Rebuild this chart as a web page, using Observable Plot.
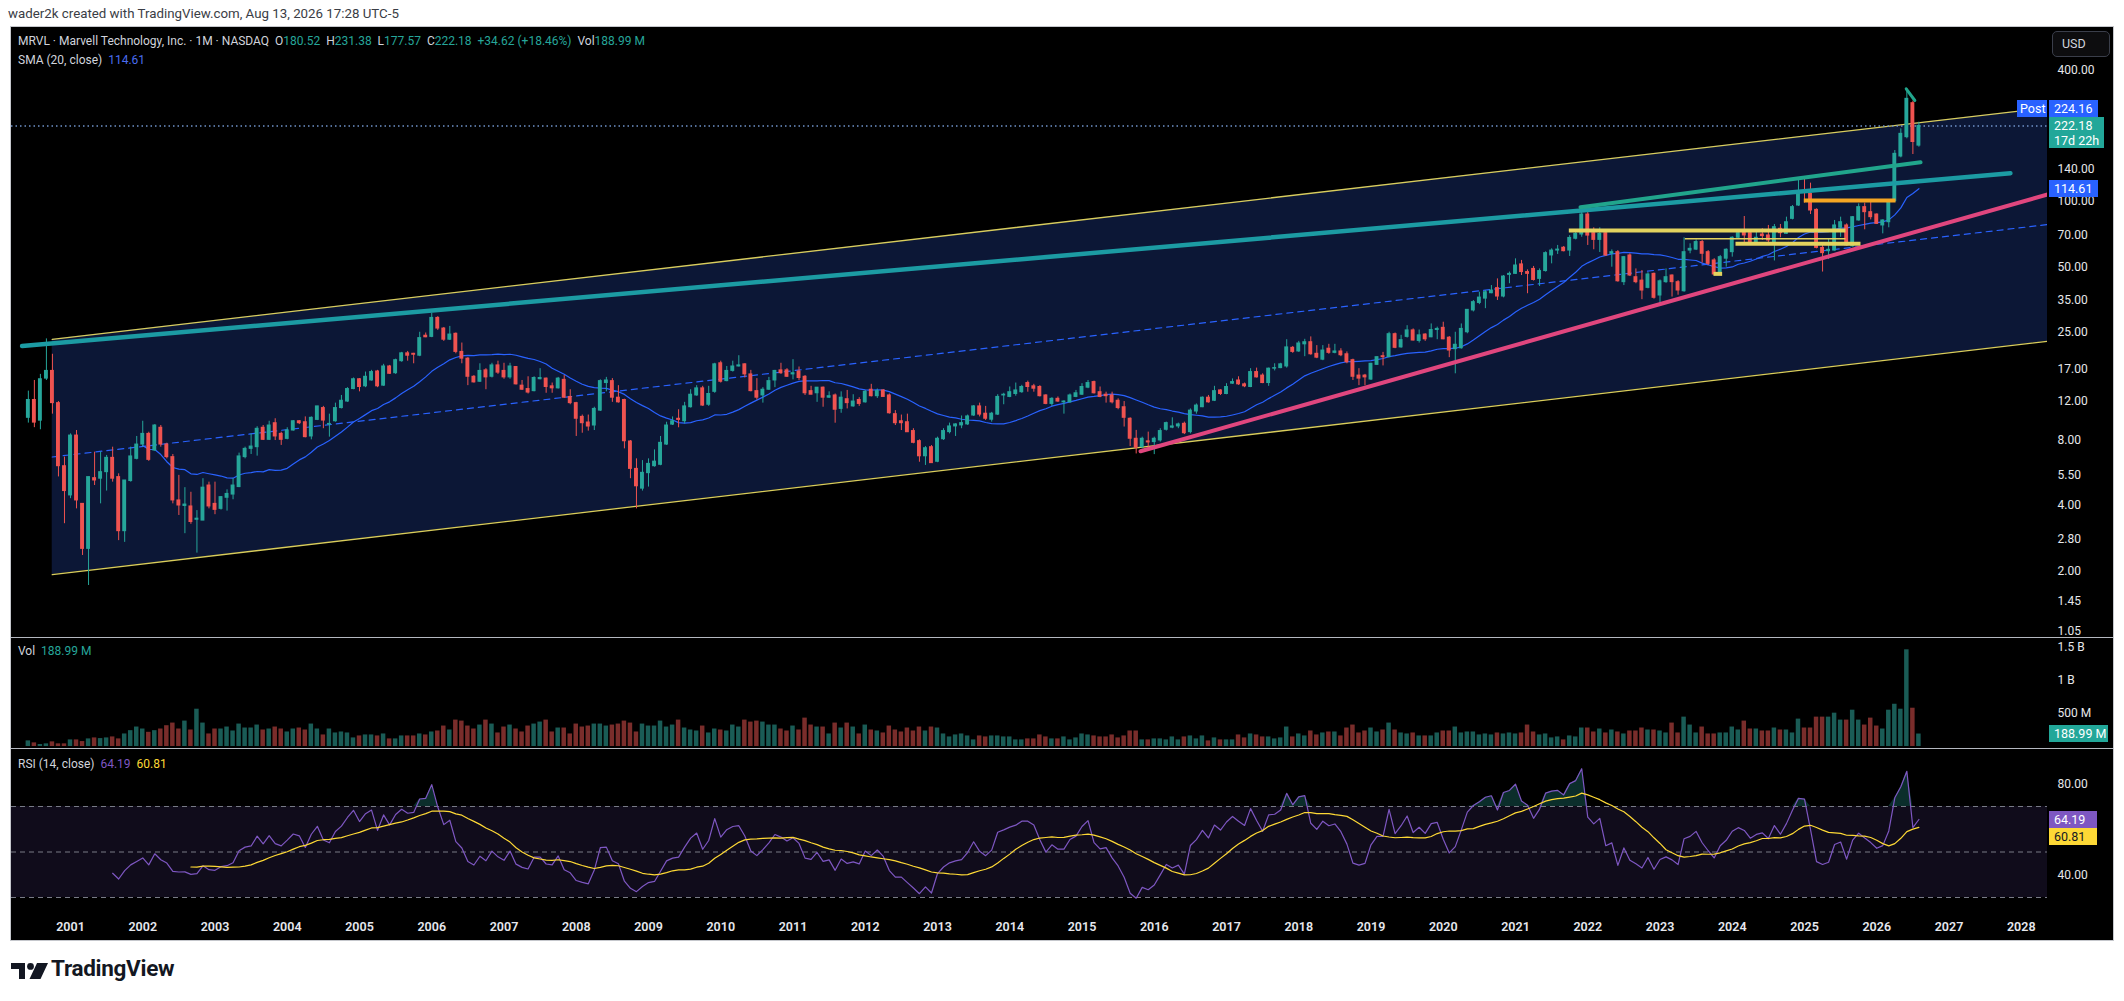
<!DOCTYPE html>
<html><head><meta charset="utf-8">
<script src="https://cdn.jsdelivr.net/npm/d3@7"></script>
<script src="https://cdn.jsdelivr.net/npm/@observablehq/plot@0.6"></script>
<style>
html,body{margin:0;padding:0;background:#fff;}
body{width:2124px;height:1001px;position:relative;overflow:hidden;font-family:Roboto,"Noto Sans",sans-serif;}
.abs{position:absolute;}
#frame{left:10px;top:26px;width:2104px;height:915px;background:#000;border:1px solid #c5c7cc;box-sizing:border-box;}
.pane{position:absolute;left:11px;}
.legend{position:absolute;left:18px;font-size:12px;color:#d1d4dc;white-space:pre;line-height:16px;}
.up{color:#26a69a;}
.badge{position:absolute;font-size:12.5px;color:#fff;line-height:17px;height:17px;padding-left:5px;box-sizing:border-box;white-space:pre;}
.sep{position:absolute;left:11px;width:2102px;height:1px;background:#b4b7bf;}
</style></head><body>
<div class="abs" style="left:8px;top:6px;font-size:13.3px;color:#3a3d45;">wader2k created with TradingView.com, Aug 13, 2026 17:28 UTC-5</div>
<div id="frame" class="abs"></div>
<div id="pricePane" class="pane" style="top:27px"></div>
<div id="volPane" class="pane" style="top:637px"></div>
<div id="rsiPane" class="pane" style="top:748px"></div>
<div class="sep" style="top:637px"></div>
<div class="sep" style="top:748px"></div>
<div class="legend" style="top:33px">MRVL · Marvell Technology, Inc. · 1M · NASDAQ  O<span class="up">180.52</span>  H<span class="up">231.38</span>  L<span class="up">177.57</span>  C<span class="up">222.18</span>  <span class="up">+34.62 (+18.46%)</span>  Vol<span class="up">188.99 M</span></div>
<div class="legend" style="top:52px">SMA (20, close)  <span style="color:#4a6cf0">114.61</span></div>
<div class="legend" style="top:643px">Vol  <span class="up">188.99 M</span></div>
<div class="legend" style="top:756px">RSI (14, close)  <span style="color:#7e57c2">64.19</span>  <span style="color:#fdd835">60.81</span></div>
<div class="abs" style="left:2052px;top:31px;width:58px;height:26px;border:1px solid #3a3e4a;border-radius:5px;box-sizing:border-box;background:#0d0d0f;color:#d1d4dc;font-size:12.5px;line-height:24px;padding-left:9px;">USD</div>
<svg style="position:absolute;left:11px;top:963px" width="37" height="16" viewBox="0 0 37 16">
<path d="M0 0H14V16H8V6H0Z" fill="#131722"/>
<circle cx="19.5" cy="3.4" r="3.4" fill="#131722"/>
<path d="M26 0H37L29.5 16H18.5Z" fill="#131722"/>
</svg>
<div class="abs" style="left:51px;top:955px;font-size:22.5px;font-weight:700;color:#131722;letter-spacing:-0.3px;">TradingView</div>
<div id="badges"></div>
<script>
// ---- monthly bars, first bar June 2000 ----
const firstBar = [2000, 6];
const open = [
10.1,12.2,9.8,15.3,16.6,11.8,6.05,4.44,8.37,4.06,
2.52,5.33,5.30,5.68,6.61,5.39,3.04,5.17,6.54,7.61,
8.52,7.14,9.09,7.61,6.66,4.21,3.97,3.95,3.43,3.40,
4.93,4.06,3.85,4.33,4.48,4.85,6.66,7.27,7.40,9.09,
8.00,9.54,8.52,8.08,8.83,9.74,9.64,8.29,9.88,11.2,
9.40,9.74,11.2,12.0,13.7,15.2,14.1,15.0,16.5,14.2,
17.4,16.2,18.4,20.0,19.9,19.5,24.1,23.8,29.1,26.0,
23.1,24.6,20.3,18.9,15.6,14.8,16.7,15.6,17.6,16.6,
15.5,17.3,14.2,13.7,13.4,15.2,15.3,14.1,13.8,15.1,
12.6,11.8,10.2,9.61,9.31,10.9,14.6,14.9,12.5,12.2,
7.86,5.88,4.77,5.62,6.05,6.14,7.61,9.40,10.0,9.74,
11.3,12.8,13.8,11.6,13.3,18.0,14.9,16.6,17.4,17.8,
16.0,13.4,12.8,13.6,15.0,16.7,16.7,16.0,16.5,15.6,
13.4,13.1,13.9,12.5,12.8,11.1,12.3,11.4,12.2,11.9,
13.6,12.7,13.5,12.8,10.5,9.74,9.64,8.78,7.89,6.72,
7.40,6.34,8.05,8.68,9.22,9.32,9.42,10.35,11.4,10.55,
9.9,10.45,12.8,12.6,13.0,13.25,14.6,14.1,14.0,12.8,
11.7,12.35,11.9,11.9,12.6,12.9,13.9,14.75,13.25,12.9,
12.8,12.1,11.3,10.0,8.09,7.40,7.87,7.81,7.95,8.90,
9.10,9.22,9.48,8.68,10.8,11.3,12.5,12.1,13.5,13.0,
14.5,15.0,14.4,14.0,16.4,15.8,14.6,17.0,17.1,17.4,
21.2,20.4,22.0,22.5,19.9,18.7,21.0,20.1,20.4,19.8,
18.6,15.8,15.8,15.15,17.7,19.4,19.2,24.5,21.3,23.8,
25.5,22.8,24.4,23.7,25.6,26.2,23.6,20.9,21.1,25.0,
31.5,34.1,35.7,37.8,39.9,36.5,45.9,46.4,51.3,47.3,
48.9,44.0,47.8,56.4,59.4,61.2,59.4,67.3,70.4,87.0,
71.4,66.5,71.4,57.4,58.4,42.5,56.4,44.8,43.2,40.0,
46.4,36.9,42.5,45.6,42.5,38.6,59.4,60.0,65.0,58.4,
53.5,46.4,54.5,58.4,68.0,73.4,71.4,63.4,70.4,69.7,
65.0,74.8,70.9,83.1,95.7,111.5,108.3,91.4,61.1,59.0,
59.4,75.6,77.5,62.1,81.7,94.1,89.2,87.0,77.5,80.2,
100.2,160.9,197.4,283.0,180.52];
const high = [
13.4,15.0,16.0,23.3,19.8,12.0,6.66,8.52,8.83,4.06,
5.39,7.02,7.02,6.78,7.40,5.58,5.20,7.40,8.29,9.74,
8.67,9.40,9.31,7.72,6.85,5.49,4.82,4.59,3.78,5.30,
5.11,5.11,4.39,4.71,5.30,6.95,7.40,8.52,9.19,9.31,
9.74,10.0,8.67,9.09,9.81,9.81,10.2,10.2,11.4,11.4,
10.5,11.8,12.8,13.9,15.4,15.3,16.4,16.7,16.7,17.8,
17.6,18.8,20.2,20.4,20.0,25.0,24.8,30.6,29.5,26.3,
26.6,24.8,22.3,19.1,15.8,17.9,17.0,18.0,18.4,18.0,
18.0,17.4,15.0,15.6,15.6,17.0,15.4,14.6,15.5,15.8,
13.6,11.9,10.4,10.4,11.3,15.1,15.5,15.3,14.2,12.3,
7.94,6.54,6.42,6.54,7.19,8.29,9.64,10.2,11.0,11.9,
13.6,14.2,14.1,14.1,18.0,18.4,17.4,18.4,19.5,17.9,
16.7,15.3,13.9,15.5,16.7,18.0,17.0,18.7,17.3,15.8,
14.1,13.9,14.0,13.3,13.0,13.3,13.5,12.9,12.5,13.5,
14.4,13.7,13.6,13.0,10.9,10.4,10.5,9.00,8.00,7.45,
7.53,8.23,9.00,9.55,9.48,10.3,10.4,11.5,11.8,11.4,
10.7,12.9,13.1,14.0,14.6,14.25,14.9,14.4,14.2,12.9,
12.5,12.6,12.1,13.0,13.5,14.5,15.0,14.9,14.0,13.25,
13.25,12.35,12.0,10.1,8.84,8.23,8.68,8.23,9.00,9.65,
10.1,9.55,9.65,11.1,11.7,12.6,12.8,14.1,13.6,14.5,
15.25,15.6,14.6,17.0,17.1,16.1,17.1,17.9,18.0,23.1,
21.5,22.7,23.2,23.8,21.7,21.7,22.0,22.0,21.0,20.3,
18.8,17.0,16.0,18.0,19.3,20.2,25.0,24.8,24.2,26.8,
25.9,25.6,24.6,27.3,26.4,27.8,23.9,25.0,27.3,31.8,
35.0,38.2,38.9,41.0,44.0,45.6,47.3,54.4,53.5,48.4,
50.2,48.9,58.6,60.5,62.7,62.0,69.6,73.4,92.4,90.2,
75.6,75.6,72.1,59.8,59.4,55.8,57.4,48.9,48.1,47.0,
46.8,43.5,48.9,45.9,43.2,68.0,63.8,66.5,66.1,59.4,
54.5,56.4,60.5,68.7,74.0,85.2,74.0,74.0,74.8,77.5,
78.3,78.3,84.6,95.7,125.6,127.0,121.3,92.4,63.8,67.3,
81.7,84.6,78.8,85.2,97.4,98.2,101.6,87.6,82.2,100.2,
171.4,215.6,329.4,289.0,231.38];
const low = [
9.55,9.1,8.9,15.0,10.5,5.4,3.29,4.29,3.85,2.35,
1.71,4.93,4.06,4.65,5.11,2.75,2.70,5.11,6.47,7.40,
6.37,7.09,7.40,6.54,4.06,3.59,2.96,3.27,2.41,3.40,
3.85,3.62,3.80,3.76,4.24,4.82,6.54,6.85,6.73,7.94,
7.94,7.94,7.54,8.00,8.77,9.40,8.17,8.00,9.81,9.0,
8.23,9.64,11.1,11.9,13.6,13.3,13.9,14.9,13.9,14.1,
16.0,16.0,18.2,18.4,17.9,19.3,23.6,23.6,25.5,22.7,
22.9,19.9,17.9,14.2,14.6,14.7,13.6,15.4,16.0,15.2,
15.2,14.3,13.5,13.0,13.3,15.1,13.1,13.1,13.7,12.4,
11.6,8.29,8.58,8.77,8.83,10.8,13.3,11.9,11.8,7.27,
5.30,3.85,4.65,4.85,5.99,6.08,7.54,9.31,9.09,9.47,
11.2,12.7,11.4,11.4,13.1,14.6,14.8,16.4,17.3,15.4,
13.3,12.2,11.8,13.5,13.9,16.0,15.5,15.1,15.0,12.8,
12.9,11.9,11.3,12.4,9.54,10.6,11.1,11.3,11.4,11.8,
12.6,12.4,12.6,10.5,9.31,8.83,8.67,7.67,6.31,6.10,
6.25,6.28,7.95,8.52,8.29,9.00,9.32,10.25,10.2,9.82,
9.65,10.35,11.6,12.5,12.7,13.1,13.25,13.25,12.6,11.6,
11.4,11.9,10.5,11.8,12.5,12.8,13.75,13.0,12.5,11.8,
11.7,11.0,9.16,7.45,6.89,7.27,7.40,6.84,7.81,8.78,
9.00,9.00,8.46,8.52,10.5,11.25,11.8,12.0,12.8,12.9,
14.4,14.25,13.9,13.9,15.4,14.5,14.1,16.6,17.0,17.1,
20.0,20.2,19.3,19.6,18.9,18.5,19.8,19.9,19.3,17.9,
15.0,14.2,14.2,15.0,17.6,17.5,19.1,21.0,21.1,23.5,
22.8,22.3,22.7,23.6,23.1,23.1,19.1,16.1,20.9,24.6,
31.0,33.5,32.1,37.6,35.0,36.0,41.8,46.1,45.6,37.6,
43.0,40.6,47.3,51.6,57.0,58.6,55.8,66.5,68.4,62.7,
59.9,58.2,55.8,49.8,42.5,41.0,45.1,41.8,35.3,39.6,
35.5,34.0,42.0,36.3,37.0,38.2,57.4,59.4,52.0,50.7,
45.6,46.1,49.8,55.4,67.3,63.4,63.8,62.7,66.1,62.7,
53.2,68.0,70.4,82.2,94.8,98.2,87.0,60.5,47.3,54.0,
59.0,68.4,62.1,61.6,81.1,74.0,82.2,78.3,70.9,75.6,
99.2,158.6,194.0,164.3,177.57];
const close = [
12.2,9.6,15.2,16.6,11.8,6.05,4.65,8.37,4.21,2.52,
5.39,5.20,5.68,6.61,5.30,3.04,5.20,6.71,7.61,8.52,
6.47,9.31,7.61,6.66,4.21,3.99,4.03,3.35,3.47,4.82,
3.95,3.81,4.36,4.51,4.93,6.71,7.27,7.45,8.99,8.00,
9.31,8.29,8.00,8.83,9.74,9.54,8.23,10.1,11.4,9.81,
9.47,11.2,12.1,13.7,15.2,14.0,15.6,16.4,14.1,17.4,
16.1,18.6,20.0,19.5,19.7,23.5,23.7,29.1,26.0,23.1,
24.4,20.3,18.9,15.6,14.7,16.6,15.5,17.6,16.3,15.5,
17.4,14.4,13.6,13.2,15.4,15.4,14.0,13.8,15.3,12.5,
11.8,10.0,9.54,9.21,11.1,14.9,15.0,12.5,11.9,7.88,
5.88,4.89,5.64,6.20,6.35,7.75,9.31,9.74,9.88,11.4,
12.9,13.8,11.5,13.0,17.8,14.8,16.6,17.4,17.6,16.0,
13.4,12.5,13.6,14.9,16.6,16.2,15.6,16.2,15.4,13.1,
12.9,13.9,12.5,12.7,11.0,12.5,11.8,12.0,11.7,13.3,
12.7,13.4,12.6,10.6,9.54,9.54,8.67,7.75,6.72,7.32,
6.25,8.09,8.78,9.22,9.42,9.55,10.25,11.4,10.45,10.0,
10.55,12.6,12.9,13.25,13.5,14.0,14.0,13.75,12.7,11.7,
12.35,12.0,12.0,12.8,13.1,14.0,14.6,13.1,12.6,12.7,
11.9,11.2,10.1,8.09,7.35,8.09,7.78,8.09,8.78,9.55,
9.22,9.42,8.58,10.9,11.5,12.5,11.9,13.4,13.0,14.0,
14.75,14.4,14.1,16.4,15.5,14.6,17.0,17.1,17.8,21.3,
20.3,22.2,22.5,19.8,19.1,20.6,20.1,20.4,19.6,18.2,
15.6,15.3,15.5,17.9,19.2,19.2,24.5,21.2,23.0,25.5,
22.9,24.2,23.2,25.6,25.9,23.2,20.6,21.9,25.9,31.7,
34.4,36.1,38.2,38.9,36.5,45.1,46.4,50.7,47.3,46.4,
43.5,47.8,57.8,59.4,60.0,59.0,67.9,70.9,87.0,69.6,
66.5,70.9,56.4,58.4,42.9,55.4,45.6,42.5,38.9,46.1,
36.0,42.9,44.8,42.5,38.9,58.4,60.5,65.0,57.4,51.6,
46.1,55.4,59.9,68.0,71.4,69.7,65.0,68.0,69.2,66.1,
76.1,71.4,80.2,94.1,110.2,109.8,90.8,61.1,57.8,59.9,
77.5,80.2,62.7,84.6,94.1,89.2,84.6,78.8,81.7,99.2,
165.5,204.5,296.3,187.56,222.18];
// volume in millions of shares
const volume = [
85,55,30,40,70,40,40,100,100,75,
115,130,120,130,145,115,190,240,295,265,
215,240,265,315,355,265,385,250,565,355,
190,265,265,295,235,340,280,280,325,250,
265,295,265,220,265,280,250,340,265,175,
265,205,220,205,130,160,175,175,160,190,
115,115,160,160,160,190,175,220,235,310,
250,400,385,310,265,325,400,340,205,295,
325,265,220,310,340,370,400,220,280,280,
190,340,295,310,340,340,310,325,340,385,
355,220,340,310,310,385,295,325,400,280,
250,235,310,205,265,250,235,325,295,400,
370,385,370,325,325,265,235,310,250,430,
325,295,295,190,355,280,355,295,190,325,
250,235,205,310,250,220,280,235,295,235,
295,280,190,145,175,190,160,100,160,145,
160,160,145,145,100,100,115,115,175,145,
115,115,145,100,130,190,175,160,145,145,
175,130,160,235,235,100,100,115,115,100,
145,100,145,160,115,160,85,130,100,100,
100,175,130,190,175,145,145,115,130,295,
145,190,160,235,175,205,220,220,160,280,
325,205,235,280,220,250,355,250,205,190,
205,160,160,160,205,235,235,295,205,220,
220,175,190,175,205,190,205,190,205,325,
220,175,190,130,145,100,160,145,280,280,
220,265,205,250,220,190,235,235,280,250,
250,235,205,355,205,445,325,205,295,190,
190,205,205,295,250,385,265,265,235,235,
280,250,250,205,415,280,280,445,445,445,
505,400,400,550,400,325,430,310,265,550,
640,565,1465,580,188.99];

// ---- drawings: [time (decimal year), price] ----
const channelUpper = [[2000.747, 23.2], [2028.364, 269.4]];
const channelLower = [[2000.747, 1.92], [2028.364, 22.7]];
const channelMid   = [[2000.747, 6.67], [2028.364, 78.2]];
const tealLong     = [[2000.33, 21.6], [2027.85, 134.8]];
const tealPeak     = [[2021.90, 94.0], [2026.606, 151.4]];
const tealTick     = [[2026.408, 329.5], [2026.527, 291.1]];
const pinkLine     = [[2015.81, 7.09], [2028.364, 107.6]];
// horizontal levels: [start, end, price, width]
const yellowLevels = [[2021.738, 2025.567, 73.5, 4], [2023.344, 2025.567, 67.3, 1.5], [2024.045, 2025.775, 63.8, 4], [2023.74, 2023.86, 46.4, 4]];
const orangeLevels = [[2024.99, 2026.26, 100.9, 4]];

// axis labels visible in the reference (200, 280 and 60 sit under the value badges)
const priceTicks = [1.05, 1.45, 2.00, 2.80, 4.00, 5.50, 8.00, 12.00, 17.00, 25.00, 35.00, 50.00, 70.00, 100.00, 140.00, 400.00];
const volTicks = [500, 1000, 1500];
const rsiTicks = [40, 80];
const yearTicks = [2001,2002,2003,2004,2005,2006,2007,2008,2009,2010,2011,2012,2013,2014,2015,2016,2017,2018,2019,2020,2021,2022,2023,2024,2025,2026,2027,2028];

const lastClose = 222.18, postPrice = 224.16, smaLast = 114.61, volLast = 188.99, rsiLast = 64.19, rsiMaLast = 60.81;

// ---- build table ----
const UP = "#26a69a", DN = "#ef5350", VUP = "#1a5c56", VDN = "#7a2d2b";
const T0 = firstBar[0] + (firstBar[1] - 1) / 12;
const N = close.length;
const bars = close.map((c, i) => ({t: T0 + i / 12, o: open[i], h: high[i], l: low[i], c, v: volume[i], up: c >= open[i]}));
for (let i = 19; i < N; i++) { let s = 0; for (let k = i - 19; k <= i; k++) s += close[k]; bars[i].sma = s / 20; }
// RSI(14) Wilder + SMA(14) smoothing
{
  let ag = 0, al = 0;
  for (let i = 1; i <= 14; i++) { const ch = close[i] - close[i - 1]; ag += Math.max(ch, 0); al += Math.max(-ch, 0); }
  ag /= 14; al /= 14;
  bars[14].rsi = al === 0 ? 100 : 100 - 100 / (1 + ag / al);
  for (let i = 15; i < N; i++) {
    const ch = close[i] - close[i - 1];
    ag = (ag * 13 + Math.max(ch, 0)) / 14; al = (al * 13 + Math.max(-ch, 0)) / 14;
    bars[i].rsi = al === 0 ? 100 : 100 - 100 / (1 + ag / al);
  }
  for (let i = 27; i < N; i++) { let s = 0; for (let k = i - 13; k <= i; k++) s += bars[k].rsi; bars[i].ma = s / 14; }
}
const rsiRows = bars.filter(d => d.rsi != null);
const maRows = bars.filter(d => d.ma != null);
const smaRows = bars.filter(d => d.sma != null);

const W = 2102, MR = 66;
const xDomain = [2000.1834, 2028.3633];
const font = "Roboto, 'Noto Sans', sans-serif";
const AX = "#e6e7ea";
const baseStyle = {background: "transparent", color: AX, fontFamily: font, fontSize: "12px", overflow: "visible"};
const seg = (arr, o) => Plot.line(arr, {x: d => d[0], y: d => d[1], clip: true, ...o});
const lvl = (arr, color) => Plot.link(arr, {x1: d => d[0], x2: d => d[1], y1: d => d[2], y2: d => d[2], stroke: color, strokeWidth: d => d[3], clip: true});
const rightLabels = (ticks, fmt) => Plot.text(ticks, {x: xDomain[1], y: d => d, text: fmt, dx: 10, textAnchor: "start", fill: AX, fontSize: 12});

const priceChart = Plot.plot({
  width: W, height: 610, marginLeft: 0, marginRight: MR, marginTop: 0, marginBottom: 0,
  x: {type: "linear", domain: xDomain, axis: null},
  y: {type: "log", domain: [0.9857, 630.8], axis: null},
  style: baseStyle,
  marks: [
    Plot.area([{t: channelUpper[0][0], lo: channelLower[0][1], hi: channelUpper[0][1]}, {t: channelUpper[1][0], lo: channelLower[1][1], hi: channelUpper[1][1]}],
      {x1: "t", y1: "lo", y2: "hi", fill: "#0c1736", clip: true}),
    seg(channelMid, {stroke: "#2962ff", strokeWidth: 1.2, strokeDasharray: "6,5"}),
    seg(channelUpper, {stroke: "#d9cd5c", strokeWidth: 1.3}),
    seg(channelLower, {stroke: "#d9cd5c", strokeWidth: 1.3}),
    Plot.ruleY([lastClose], {stroke: "#6f93c9", strokeWidth: 1.3, strokeDasharray: "1.5,3"}),
    Plot.line(smaRows, {x: "t", y: "sma", stroke: "#2962ff", strokeWidth: 1.2, clip: true}),
    Plot.ruleX(bars, {x: "t", y1: "l", y2: "h", stroke: d => d.up ? UP : DN, strokeWidth: 1, clip: true}),
    Plot.rect(bars, {x1: d => d.t - 0.027, x2: d => d.t + 0.027, y1: d => Math.min(d.o, d.c), y2: d => Math.max(d.o, d.c),
      fill: d => d.up ? UP : DN, insetTop: -0.5, insetBottom: -0.5, clip: true}),
    seg(tealLong, {stroke: "#1c9ba3", strokeWidth: 4.5, strokeLinecap: "round"}),
    seg(tealPeak, {stroke: "#21a58c", strokeWidth: 4, strokeLinecap: "round"}),
    seg(tealTick, {stroke: "#21a58c", strokeWidth: 3, strokeLinecap: "round"}),
    seg(pinkLine, {stroke: "#e0467e", strokeWidth: 4, strokeLinecap: "round"}),
    lvl(yellowLevels, "#e3d35e"),
    lvl(orangeLevels, "#f5a623"),
    rightLabels(priceTicks, d => d.toFixed(2))
  ]
});
document.getElementById("pricePane").appendChild(priceChart);

const volChart = Plot.plot({
  width: W, height: 111, marginLeft: 0, marginRight: MR, marginTop: 0, marginBottom: 0,
  x: {type: "linear", domain: xDomain, axis: null},
  y: {domain: [0, 1651.5], range: [109, 0], axis: null},
  style: baseStyle,
  marks: [
    Plot.rect(bars, {x1: d => d.t - 0.031, x2: d => d.t + 0.031, y1: 0, y2: "v", fill: d => d.up ? VUP : VDN}),
    rightLabels(volTicks, d => d >= 1000 ? (d / 1000) + " B" : d + " M")
  ]
});
document.getElementById("volPane").appendChild(volChart);

const rsiChart = Plot.plot({
  width: W, height: 193, marginLeft: 0, marginRight: MR, marginTop: 0, marginBottom: 29,
  x: {type: "linear", domain: xDomain, axis: null},
  y: {domain: [30, 70], range: [149, 58], axis: null},
  style: baseStyle,
  marks: [
    Plot.rect([0], {x1: xDomain[0], x2: xDomain[1], y1: 30, y2: 70, fill: "#100c1b"}),
    Plot.ruleY([70, 50, 30], {stroke: "#787b86", strokeWidth: 1, strokeDasharray: "5,4"}),
    Plot.areaY(rsiRows, {x: "t", y1: 70, y2: d => Math.max(d.rsi, 70), fill: "#26a69a", fillOpacity: 0.28}),
    Plot.areaY(rsiRows, {x: "t", y1: 30, y2: d => Math.min(d.rsi, 30), fill: "#ef5350", fillOpacity: 0.28}),
    Plot.line(rsiRows, {x: "t", y: "rsi", stroke: "#7e57c2", strokeWidth: 1.2, clip: true}),
    Plot.line(maRows, {x: "t", y: "ma", stroke: "#fdd835", strokeWidth: 1.2, clip: true}),
    rightLabels(rsiTicks, d => d.toFixed(2)),
    Plot.axisX({ticks: yearTicks, tickSize: 0, tickPadding: 10, tickFormat: d => String(d), label: null, fontSize: 12.5, fontWeight: 600, fill: "#e6e8ee"})
  ]
});
document.getElementById("rsiPane").appendChild(rsiChart);

// ---- value badges on the axes ----
function scaleOf(chart, name, fallback) {
  const s = chart.scale(name);
  return s && s.apply ? (v => s.apply(v)) : fallback;
}
const yP = scaleOf(priceChart, "y", d3.scaleLog().domain([0.9857, 630.8]).range([610, 0]));
const yV = scaleOf(volChart, "y", d3.scaleLinear().domain([0, 1651.5]).range([109, 0]));
const yR = scaleOf(rsiChart, "y", d3.scaleLinear().domain([30, 70]).range([149, 58]));
const B = document.getElementById("badges");
function badge(left, top, w, h, bg, html, color) {
  const d = document.createElement("div");
  d.className = "badge";
  Object.assign(d.style, {left: left + "px", top: top + "px", width: w + "px", height: h + "px", background: bg, color: color || "#fff"});
  d.innerHTML = html;
  B.appendChild(d);
  return d;
}
const tealTop = 27 + yP(lastClose) - 8.5;
const tb = badge(2049, tealTop, 55, 31, "#22a799", "222.18\n17d 22h");
tb.style.lineHeight = "15px"; tb.style.paddingTop = "1px";
badge(2049, tealTop - 17, 49, 17, "#2962ff", postPrice.toFixed(2));
badge(2017, tealTop - 17, 30, 17, "#2962ff", "Post").style.paddingLeft = "3px";
badge(2049, 27 + yP(smaLast) - 8.5, 49, 17, "#2962ff", smaLast.toFixed(2));
badge(2049, 637 + yV(volLast) - 8.5, 59, 17, "#22a799", volLast.toFixed(2) + " M");
const rTop = 748 + yR(rsiLast) - 8.5;
badge(2049, rTop, 48, 17, "#7e57c2", rsiLast.toFixed(2));
badge(2049, rTop + 17, 48, 17, "#fdd835", rsiMaLast.toFixed(2), "#131722");
</script>
</body></html>
